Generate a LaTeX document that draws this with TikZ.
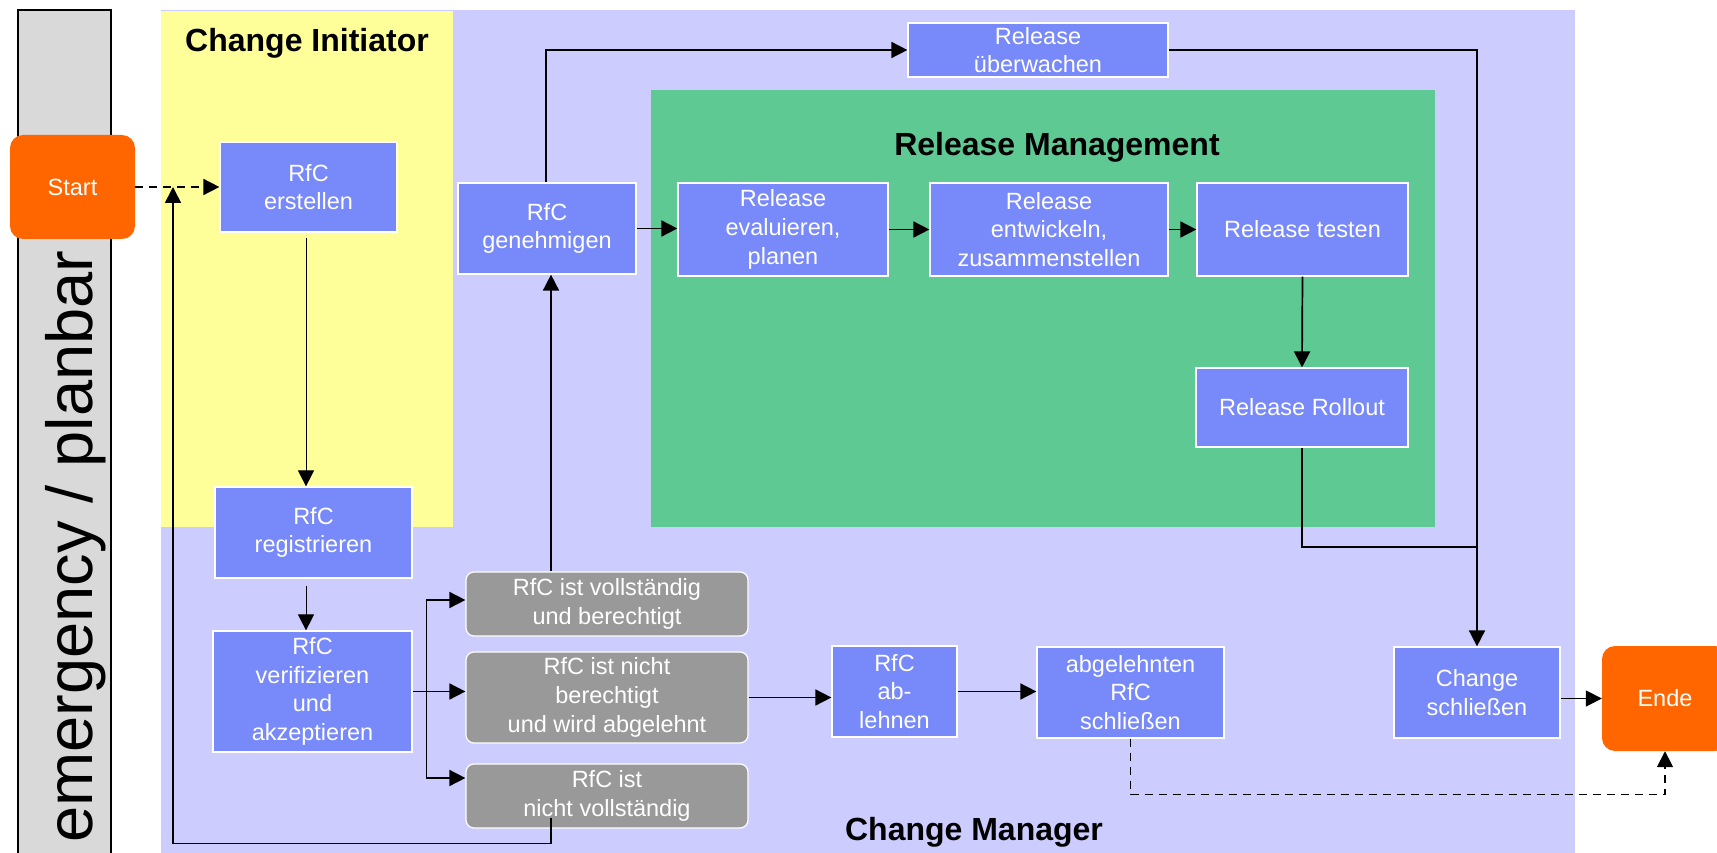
\documentclass[tikz,border=0pt]{standalone}
\usepackage{fontspec}
\setmainfont{Liberation Sans}
\usetikzlibrary{arrows.meta}
\definecolor{boxblue}{RGB}{120,137,250}
\definecolor{lavender}{RGB}{204,204,255}
\definecolor{paleyellow}{RGB}{255,255,153}
\definecolor{relgreen}{RGB}{95,201,148}
\definecolor{boxgray}{RGB}{153,153,153}
\definecolor{lanegray}{RGB}{217,217,217}
\definecolor{termorange}{RGB}{255,102,0}
\newcommand\myboxfont{\fontsize{23.5pt}{28.7pt}\selectfont}
\newcommand\mytitlefont{\fontsize{32pt}{36pt}\selectfont\bfseries}
\newcommand\mylanefont{\fontsize{65pt}{70pt}\selectfont}
\begin{document}
\begin{tikzpicture}[x=1pt,y=-1pt,
  box/.style={draw=white, line width=1.2pt, fill=boxblue, text=white, align=center, inner sep=0pt, font=\myboxfont},
  gbox/.style={box, fill=boxgray, rounded corners=8pt},
  term/.style={fill=termorange, text=white, rounded corners=13pt, inner sep=0pt, font=\myboxfont},
  conn/.style={line width=1.7pt, -{Triangle[length=16pt,width=16pt]}},
  thinconn/.style={line width=1pt, -{Triangle[length=16pt,width=16pt]}},
  plain/.style={line width=1.7pt},
  dashconn/.style={conn, dash pattern=on 8pt off 6pt},
  titletext/.style={font=\mytitlefont, anchor=base, inner sep=0pt}
]
\useasboundingbox (0,0) rectangle (1717,853);
\clip (0,0) rectangle (1717,853);
\fill[white] (0,0) rectangle (1717,853);

% swimlanes
\fill[lavender] (161,10) rectangle (1575,860);
\fill[paleyellow] (161,11) rectangle (453,527);
\fill[relgreen] (651,90) rectangle (1435,527);
\draw[fill=lanegray, line width=1.2pt] (18,10) rectangle (111,870);
\node[rotate=90, anchor=base, font=\mylanefont, inner sep=0pt] (lane) at (92,546.5) {emergency / planbar};

% titles
\node[titletext] (tci) at (307,51.5) {Change Initiator};
\node[titletext] (trm) at (1057,156) {Release Management};
\node[titletext] (tcm) at (974,840) {Change Manager};

% terminals
\node[term, minimum width=125pt, minimum height=104pt] (start) at (72.5,187) {Start};
\node[term, minimum width=126pt, minimum height=105pt] (ende) at (1665,698.5) {Ende};

% process boxes
\node[box, minimum width=177pt, minimum height=90pt] (erst) at (308.5,187) {RfC\\erstellen};
\node[box, minimum width=197pt, minimum height=91pt] (reg) at (313.5,532.5) {RfC\\registrieren};
\node[box, minimum width=199pt, minimum height=121pt] (ver) at (312.5,691.5) {RfC\\verifizieren\\und\\akzeptieren};
\node[box, minimum width=178pt, minimum height=91pt] (gen) at (547,228.5) {RfC\\genehmigen};
\node[box, minimum width=260pt, minimum height=54pt] (uew) at (1038,50) {Release\\überwachen};
\node[box, minimum width=210pt, minimum height=93pt] (eval) at (783,229.5) {Release\\evaluieren,\\planen};
\node[box, minimum width=238pt, minimum height=93pt] (entw) at (1049,229.5) {Release\\entwickeln,\\zusammenstellen};
\node[box, minimum width=211pt, minimum height=93pt] (test) at (1302.5,229.5) {Release testen};
\node[box, minimum width=212pt, minimum height=79pt] (roll) at (1302,407.5) {Release Rollout};
\node[gbox, minimum width=282pt, minimum height=64pt] (voll) at (607,604) {RfC ist vollständig\\und berechtigt};
\node[gbox, minimum width=282pt, minimum height=91pt] (nber) at (607,697.5) {RfC ist nicht\\berechtigt\\und wird abgelehnt};
\node[gbox, minimum width=282pt, minimum height=64pt] (nvoll) at (607,796) {RfC ist\\nicht vollständig};
\node[box, minimum width=125pt, minimum height=91pt] (abl) at (894.5,691.5) {RfC\\ab-\\lehnen};
\node[box, minimum width=187pt, minimum height=91pt] (abgrfc) at (1130.5,692.5) {abgelehnten\\RfC\\schließen};
\node[box, minimum width=166pt, minimum height=91pt] (chs) at (1477,692.5) {Change\\schließen};

% coordinates
\coordinate (loopin) at (173,187);
\coordinate (split) at ([xshift=14pt]ver.east);
\coordinate (join) at (1477,547);

% connectors
\draw[dashconn] (start.east) -- (erst.west);
\draw[conn] ([xshift=-56pt,yshift=11pt]nvoll.south) -- ([xshift=-56pt,yshift=-15pt]nvoll.south) -| (loopin);
\draw[thinconn] ([xshift=-2.5pt,yshift=-5pt]erst.south) -- ([xshift=-2.5pt]erst.south |- reg.north);
\draw[thinconn] ([xshift=-7.5pt,yshift=-7pt]reg.south) -- ([xshift=-7.5pt]reg.south |- ver.north);
\draw[plain] (ver.east) -- (split);
\draw[conn] (split) |- ([yshift=4pt]voll.west);
\draw[conn] (split) -- (split -| nber.west);
\draw[conn] (split) |- ([yshift=18pt]nvoll.west);
\draw[conn] ([xshift=-56pt]voll.north) -- ([xshift=-56pt]voll.north |- gen.south);
\draw[conn] (nber.east) -- (nber.east -| abl.west);
\draw[conn] (abl.east) -- (abl.east -| abgrfc.west);
\draw[dashconn] (abgrfc.south) -- ++(0,56) -| (ende.south);
\draw[conn] (ende.west -| chs.east) -- (ende.west);
\draw[conn] (gen.east) -- (gen.east -| eval.west);
\draw[conn] (eval.east) -- (eval.east -| entw.west);
\draw[conn] (entw.east) -- (entw.east -| test.west);
\draw[conn] (test.south) -- (roll.north);
\draw[conn] ([xshift=-1pt]gen.north) |- (uew.west);
\draw[conn] (uew.east) -| (chs.north);
\draw[plain] (roll.south) |- (join);
\end{tikzpicture}
\end{document}
